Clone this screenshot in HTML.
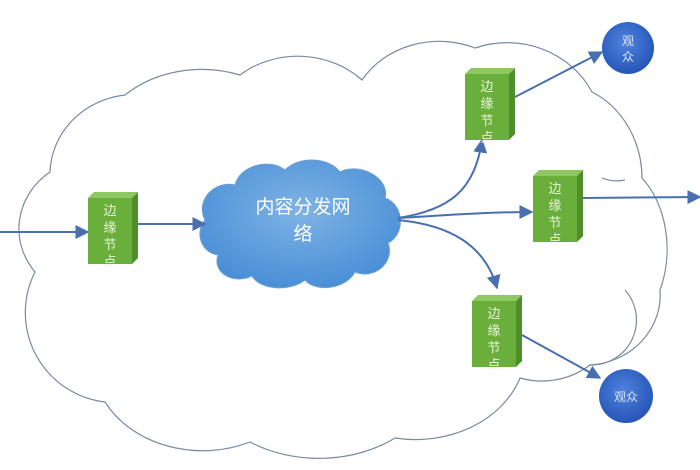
<!DOCTYPE html>
<html><head><meta charset="utf-8"><style>
html,body{margin:0;padding:0;background:#fff;width:700px;height:470px;overflow:hidden}
text{font-family:"Liberation Sans","Noto Sans CJK SC",sans-serif}
</style></head><body>
<svg width="700" height="470" viewBox="0 0 700 470" xmlns="http://www.w3.org/2000/svg">
<defs>
<radialGradient id="cg" cx="50%" cy="40%" r="60%"><stop offset="0" stop-color="#7fb3e6"/><stop offset="1" stop-color="#4a8fd6"/></radialGradient>
<radialGradient id="bg" cx="45%" cy="40%" r="60%"><stop offset="0" stop-color="#4f82de"/><stop offset="1" stop-color="#2656b8"/></radialGradient>
<marker id="a" viewBox="0 0 10 10" refX="9" refY="5" markerWidth="7" markerHeight="7" orient="auto"><path d="M0,0 L10,5 L0,10 z" fill="#4a6fb0"/></marker>
<g id="box">
<polygon points="0,6 6,0 50,0 44,6" fill="#8fc760"/>
<polygon points="44,6 50,0 50,66 44,72" fill="#4e8f2a"/>
<rect x="0" y="6" width="44" height="66" fill="#6aae3c"/>
</g>
</defs>
<g fill="none" stroke="#7a8aa4" stroke-width="1.2">
<path d="M35,272 A75,70 0 0 1 50,172 A85,80 0 0 1 125,95 A110,90 0 0 1 240,75 A90,80 0 0 1 362,80 A90,80 0 0 1 475,48 A95,90 0 0 1 592,92 A85,95 0 0 1 642,178 A65,90 0 0 1 660,290 A75,70 0 0 1 590,365 A80,80 0 0 1 520,378 A110,90 0 0 1 395,438 A120,90 0 0 1 250,442 A110,90 0 0 1 105,402 A90,90 0 0 1 35,272 Z"/>
<path d="M602,178 A40,40 0 0 0 625,180"/>
<path d="M625,290 A45,45 0 0 1 590,365"/>
</g>
<path d="M205,220 C195,200 215,180 235,185 C240,165 270,158 285,170 C300,155 330,158 340,172 C360,162 390,178 385,198 C405,205 405,235 388,243 C395,262 375,280 355,272 C345,290 315,292 305,280 C290,292 260,290 252,276 C232,285 212,272 218,255 C200,252 195,232 205,220 Z" fill="url(#cg)" stroke="#6d9fd4" stroke-width="1"/>
<text x="303" y="213" font-size="19" fill="#fff" text-anchor="middle">内容分发网</text>
<text x="303" y="240" font-size="19" fill="#fff" text-anchor="middle">络</text>
<g stroke="#4a6fb0" stroke-width="2" fill="none">
<line x1="0" y1="232" x2="88" y2="232" marker-end="url(#a)"/>
<line x1="138" y1="224" x2="205" y2="224" marker-end="url(#a)"/>
<path d="M398,218 C450,210 475,190 482,140" marker-end="url(#a)"/>
<path d="M398,218 C450,215 490,212 532,212" marker-end="url(#a)"/>
<path d="M398,220 C450,225 485,245 497,288" marker-end="url(#a)"/>
<line x1="515" y1="97" x2="602" y2="52" marker-end="url(#a)"/>
<line x1="583" y1="198" x2="700" y2="197" marker-end="url(#a)"/>
<line x1="522" y1="335" x2="600" y2="378" marker-end="url(#a)"/>
</g>
<use href="#box" x="88" y="192"/>
<use href="#box" x="465" y="68"/>
<use href="#box" x="533" y="170"/>
<use href="#box" x="472" y="295"/>
<g fill="#e8f5d8" font-size="13" text-anchor="middle">
<text x="110" y="215">边</text><text x="110" y="232">缘</text><text x="110" y="249">节</text><text x="110" y="266">点</text>
<text x="487" y="91">边</text><text x="487" y="108">缘</text><text x="487" y="125">节</text><text x="487" y="142">点</text>
<text x="555" y="193">边</text><text x="555" y="210">缘</text><text x="555" y="227">节</text><text x="555" y="244">点</text>
<text x="494" y="318">边</text><text x="494" y="335">缘</text><text x="494" y="352">节</text><text x="494" y="369">点</text>
</g>
<circle cx="628" cy="48" r="26" fill="url(#bg)"/>
<circle cx="626" cy="396" r="27" fill="url(#bg)"/>
<g fill="#dfe8fa" font-size="12" text-anchor="middle">
<text x="628" y="45">观</text><text x="628" y="61">众</text>
<text x="626" y="401">观众</text>
</g>
</svg>
</body></html>
